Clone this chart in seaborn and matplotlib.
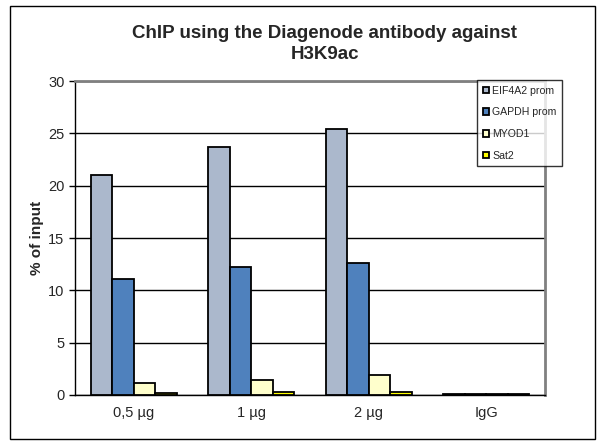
import pandas as pd
import numpy as np
import matplotlib.pyplot as plt
import seaborn as sns
from matplotlib.patches import Rectangle

# Values (% of input)
samples = ['0,5 µg', '1 µg', '2 µg', 'IgG']
targets = ['EIF4A2 prom', 'GAPDH prom', 'MYOD1', 'Sat2']
eif4a2 = [21.0, 23.7, 25.4, 0.05]
gapdh = [11.1, 12.2, 12.6, 0.08]
myod1 = [1.1, 1.4, 1.9, 0.08]
sat2 = [0.2, 0.3, 0.3, 0.08]
colors = ['#abb8cc', '#4f81bd', '#ffffcc', '#ffff00']

df = pd.DataFrame({
    'sample': samples * 4,
    'target': np.repeat(targets, len(samples)),
    'value': eif4a2 + gapdh + myod1 + sat2,
})

sns.set_style("white")
plt.rcParams['font.family'] = ['Liberation Sans', 'DejaVu Sans']

fig = plt.figure(figsize=(6.06, 4.47), dpi=100)
ax = fig.add_axes([75 / 606, 1 - 395 / 447, 470 / 606, 314 / 447])

sns.barplot(data=df, x='sample', y='value', hue='target', palette=colors,
            width=0.73, gap=0, edgecolor='black', linewidth=1.3,
            saturation=1, ax=ax, zorder=3)

ax.set_ylim(0, 30)
ax.set_xlim(-0.5, 3.5)
ax.set_yticks(range(0, 31, 5))
ax.yaxis.grid(True, color='black', linewidth=1, zorder=0)
ax.set_xlabel('')
ax.set_ylabel('% of input', fontsize=11, fontweight='bold', labelpad=3)
ax.tick_params(axis='both', labelsize=10.5, length=4, width=1, color='black',
               direction='out', bottom=True, left=True)
ax.set_xticks([-0.5, 0.5, 1.5, 2.5, 3.5], minor=True)
ax.tick_params(axis='x', which='major', length=0, pad=8)
ax.tick_params(axis='x', which='minor', length=4, width=1, color='black')

for side in ['left', 'bottom']:
    ax.spines[side].set_color('black')
    ax.spines[side].set_linewidth(1)
for side in ['top', 'right']:
    ax.spines[side].set_color('#808080')
    ax.spines[side].set_linewidth(2)

fig.text(325 / 606, 1 - 44 / 447,
         'ChIP using the Diagenode antibody against\nH3K9ac',
         ha='center', va='center', fontsize=13.5, fontweight='bold',
         linespacing=1.3)

leg = ax.legend(loc='upper left', bbox_to_anchor=(477 / 606, 1 - 80 / 447),
                bbox_transform=fig.transFigure, fontsize=7.6, frameon=True,
                fancybox=False, edgecolor='black', handlelength=0.6,
                handleheight=0.6, handletextpad=0.3, labelspacing=1.1,
                borderpad=0.55, borderaxespad=0)
leg.get_frame().set_linewidth(1)
leg.set_zorder(10)

# outer chart border
fig.patches.append(Rectangle((10 / 606, 1 - 439 / 447), 585 / 606, 433 / 447,
                             transform=fig.transFigure, fill=False,
                             edgecolor='black', linewidth=1))

fig.savefig('out.png', dpi=100)
